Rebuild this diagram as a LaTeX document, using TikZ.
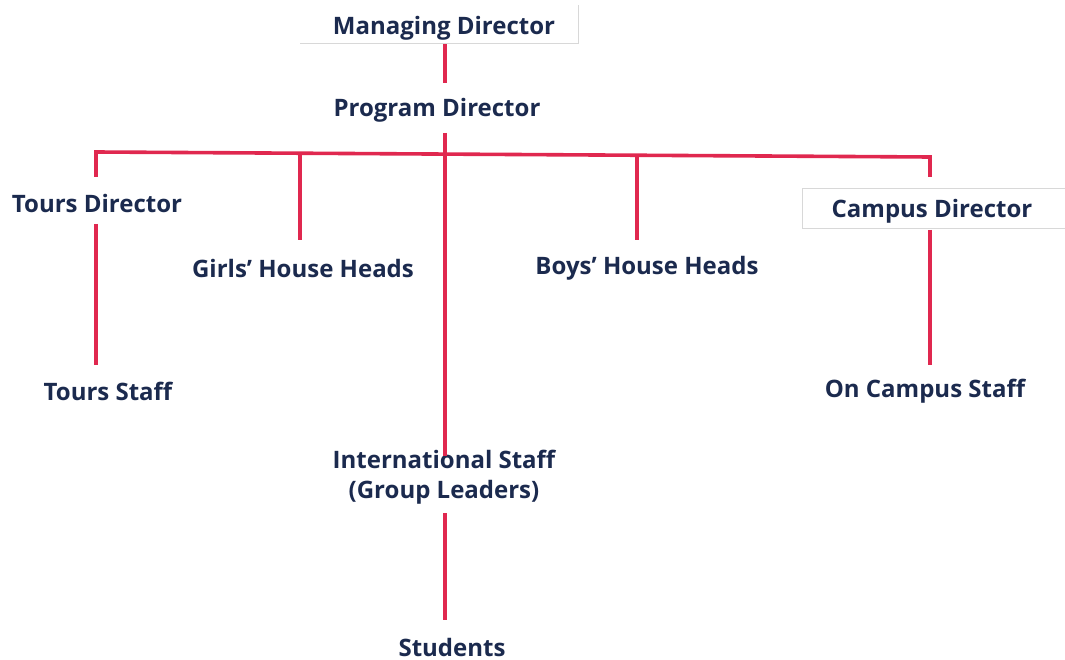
\documentclass[tikz,border=0pt]{standalone}
\usepackage{fontspec}
\setmainfont{Open Sans}[Ligatures={NoCommon}]
\definecolor{navy}{HTML}{1B2A4E}
\definecolor{redline}{HTML}{E0284F}
\definecolor{boxgray}{HTML}{D8D8D8}
\begin{document}
\begin{tikzpicture}[x=1pt,y=-1pt,
  lbl/.style={font=\bfseries\fontsize{24}{30}\selectfont, text=navy, inner sep=2pt, align=center},
  link/.style={draw=redline, line width=3.6pt},
  frame/.style={draw=boxgray, line width=0.8pt}]
\useasboundingbox (0,0) rectangle (1065,660);
\fill[white] (0,0) rectangle (1065,660);
% faint frames
\draw[frame] (300,43) -- (578,43) -- (578,5);
\draw[frame] (1065,188) -- (802,188) -- (802,228) -- (1065,228);
% nodes
\node[lbl] (md) at (444,28) {Managing Director};
\node[lbl] (pd) at (437,110) {Program Director};
\node[lbl] (td) at (97,204) {Tours Director};
\node[lbl] (ts) at (108,391) {Tours Staff};
\node[lbl] (gh) at (303,268) {Girls’ House Heads};
\node[lbl] (bh) at (647,268) {Boys’ House Heads};
\node[lbl] (cd) at (932,211) {Campus Director};
\node[lbl] (cs) at (925,391) {On Campus Staff};
\node[lbl] (is) at (444,477) {International Staff\\(Group Leaders)};
\node[lbl, inner sep=0pt, text depth=0pt, anchor=base] (st) at (452,656) {Students};
% bus coordinates
\coordinate (busL) at (96,152);
\coordinate (busR) at (930,157);
\coordinate (jG) at (300,153.2);
\coordinate (jC) at (445,154.1);
\coordinate (jB) at (637,155.2);
% connectors
\draw[link] (md.south -| 445,0) ++(0,2) -- (445,83);
\draw[link] (busL |- 0,177) -- (busL) -- (busR) -- (busR |- 0,177);
\draw[link] (jG) -- (300,240);
\draw[link] (jB) -- (637,240);
\draw[link] (445,133) -- (445,456);
\draw[link] (96,224) -- (96,365);
\draw[link] (930,230) -- (930,365);
\draw[link] (445,513) -- (445,620);
\end{tikzpicture}
\end{document}
